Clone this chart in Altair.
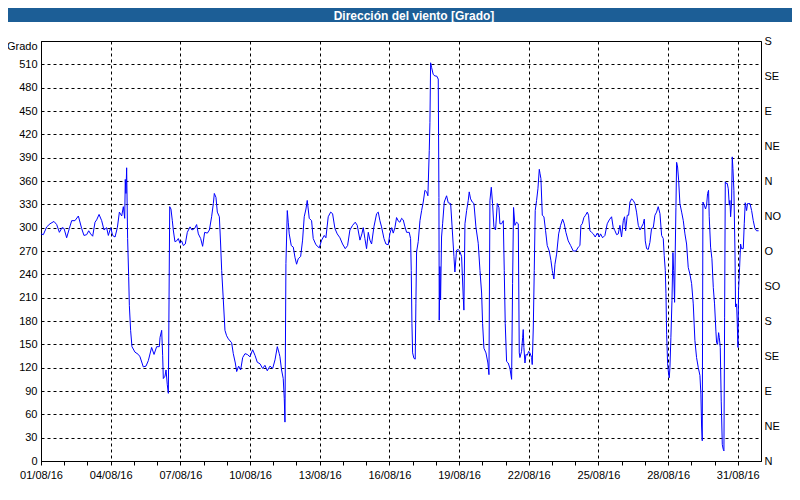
import altair as alt
import pandas as pd

# ---- data ----
# hours since 01/08/16 00:00
hours = [
    0.0, 2.4, 5.9, 9.3, 13.4, 16.2, 19.0, 21.7, 23.8, 26.5, 29.3, 31.7, 35.1, 38.6, 42.0, 44.4,
    47.2, 49.3, 51.3, 53.4, 55.8, 57.5, 60.0, 62.7, 65.1, 67.8, 69.6, 72.0, 74.0, 76.5, 78.9,
    81.0, 83.4, 85.1, 86.5, 87.1, 87.8, 88.5, 89.5, 90.6, 91.3, 92.6, 94.0, 97.1, 100.6, 102.3,
    105.7, 108.5, 110.9, 114.3, 116.8, 119.5, 122.3,
    123.0, 124.7, 125.7, 126.4, 128.1, 129.2, 130.5, 131.6, 132.3, 133.0, 134.3, 135.7, 136.7,
    138.4, 140.2, 141.9, 143.6, 145.3, 147.1, 149.1, 151.2, 154.0, 156.0, 158.8, 160.8, 162.6,
    165.0, 167.0, 169.1, 171.9, 174.0, 176.3, 178.1, 179.1, 180.8, 182.2, 184.3, 185.6, 186.7,
    188.4, 190.1, 191.8, 193.6, 197.0, 198.7, 200.8, 202.2, 204.2, 206.3, 208.4, 210.8, 213.2,
    215.9, 218.7, 221.1, 223.5, 226.3, 229.0, 231.4, 233.8, 236.6, 239.4, 241.8, 244.2, 246.2,
    246.9, 248.6, 250.3, 251.4, 252.1, 253.1, 254.5, 255.5, 256.5, 258.6, 260.7, 262.4, 264.1,
    265.8, 268.3, 270.3, 272.0, 273.8, 275.1, 277.2, 279.6, 281.3, 284.1, 287.5, 290.0, 292.7,
    294.4, 296.8, 299.3, 301.3, 303.7, 306.1, 308.9, 311.6, 314.4, 316.8, 319.2, 322.0, 324.7,
    326.8, 329.6, 331.6, 333.0, 334.7, 336.4, 338.2, 339.9, 341.6, 344.0, 346.8, 348.5, 350.2,
    351.9, 354.4, 356.4, 358.8, 360.5, 362.3, 364.0, 365.7, 367.4, 369.5,
    370.9, 372.6, 374.3, 376.1, 377.8, 380.5, 381.9, 382.6, 383.3, 384.0, 385.4, 386.7, 387.4,
    388.1, 389.8, 391.6, 393.3, 395.0, 396.7, 398.5, 399.8, 401.2, 401.9, 402.6, 403.6, 405.3,
    407.1, 408.8, 410.5, 411.2, 411.5, 412.2, 412.9, 413.9, 415.0, 416.7, 419.1, 420.8, 423.3,
    425.0, 426.7, 427.7, 429.4, 431.2, 432.9, 434.6, 436.3, 437.0, 438.1, 439.8, 441.5, 442.5,
    443.9, 445.6, 447.4, 449.4, 451.8, 453.6, 455.3, 456.3, 457.7, 459.8, 461.8, 462.9, 463.9,
    465.3, 466.6, 468.0, 469.7, 471.5, 473.2, 474.2, 475.9, 477.7, 478.7, 479.7, 481.1, 482.8,
    484.6, 486.3, 487.3, 488.3, 489.7, 491.4, 493.2, 494.2,
    494.9, 496.6, 497.7, 498.3, 499.0, 500.1, 501.1, 502.5, 503.9, 505.2, 507.0, 507.6, 508.7,
    509.7, 510.7, 512.1, 513.5, 514.9, 515.6, 516.6, 518.0, 519.7, 521.4, 523.1, 525.2, 526.9,
    528.3, 530.0, 531.1, 532.8, 534.9, 536.9, 539.0, 540.7, 542.4, 544.8, 547.3, 550.0, 552.8,
    555.2, 556.9, 557.9, 559.3, 561.0, 562.7, 564.5, 565.8, 567.2, 569.0, 570.7, 572.7, 574.8,
    576.9, 578.2, 580.3, 582.7, 585.1, 587.2, 589.6, 591.3, 593.1, 594.8, 596.5, 598.2, 599.9,
    601.7, 603.0, 604.1, 605.8, 607.2, 608.6, 610.3, 612.0, 613.7, 615.4, 617.2, 618.2,
    618.9, 620.6, 622.3, 623.4, 624.4, 625.8, 627.5, 629.2, 630.9, 632.7, 634.4, 636.1, 637.8,
    639.6, 641.3, 643.0, 644.0, 645.1, 645.8, 646.5, 647.5, 648.5, 649.2, 649.9, 650.9, 652.0,
    653.0, 653.7, 654.7, 655.4, 656.1, 656.8, 657.8, 658.9, 660.2, 662.0, 663.7, 665.4, 667.1,
    668.8, 670.6, 672.3, 674.0, 675.7, 677.4, 679.2, 680.9, 681.9, 682.6, 683.3, 684.0, 685.4,
    686.7, 687.8, 688.8, 689.8, 690.5, 691.9, 693.3, 694.7, 696.0, 697.4, 698.1, 699.1, 700.2,
    700.9, 701.9, 702.9, 704.0, 705.0, 705.7, 706.4, 707.1, 707.8, 709.1, 710.2, 711.2, 711.9,
    712.6, 713.6, 714.3, 715.0, 716.0, 717.1, 717.7, 718.8, 719.5, 720.2, 720.8, 721.9, 722.9,
    723.9, 725.7, 726.7, 727.7, 729.1, 730.1, 731.5, 732.6, 734.3, 736.0, 737.7, 739.4, 741.5,
]

# wind direction, degrees
degrees = [
    292, 291, 301, 305, 308, 304, 294, 300, 299, 287, 299, 309, 309, 315, 299, 290,
    291, 296, 292, 289, 307, 310, 317, 309, 297, 300, 290, 300, 290, 288, 300,
    320, 315, 327, 312, 362, 344, 377, 286, 237, 200, 168, 147, 140, 137, 134,
    121, 122, 129, 146, 137, 147, 147,
    159, 168, 136, 106, 109, 117, 98, 87, 207, 327, 324, 309, 297,
    282, 283, 286, 280, 283, 277, 279, 294, 301, 297, 299, 304, 292,
    286, 276, 294, 293, 297, 314, 331, 344, 339, 320, 314, 279, 245,
    207, 168, 161, 157, 152, 138, 126, 115, 122, 117, 133, 138, 137,
    134, 143, 136, 127, 125, 119, 123, 116, 122, 119, 130, 147, 138,
    134, 117, 106, 80, 50, 254, 322, 307, 292, 277, 275, 262, 253,
    260, 263, 284, 314, 324, 335, 312, 309, 286, 278, 274, 284, 290,
    287, 314, 320, 318, 299, 292, 287, 279, 273, 277, 297, 303, 307,
    303, 284, 292, 300, 286, 273, 294, 284, 279, 301, 318, 320, 309,
    301, 286, 279, 278, 292, 300, 293, 300, 313, 308,
    307, 312, 310, 301, 294, 294, 286, 245, 177, 139, 132, 131, 203,
    269, 282, 309, 322, 333, 348, 346, 341, 399, 435, 512, 506, 497,
    495, 495, 491, 339, 181, 250, 207, 288, 305, 333, 341, 332, 331,
    297, 263, 243, 271, 272, 269, 263, 211, 194, 305, 322, 335, 346,
    337, 333, 331, 301, 280, 245, 216, 177, 145, 139, 126, 111, 335,
    352, 331, 301, 297, 331, 326, 305, 305, 309, 245, 177, 128, 126,
    119, 105, 228, 326, 303, 307, 305, 139,
    133, 141, 159, 169, 146, 126, 137, 136, 141, 139, 133, 124, 171,
    245, 322, 335, 350, 375, 370, 363, 316, 314, 296, 277, 270, 258,
    245, 234, 253, 266, 292, 303, 311, 305, 294, 283, 277, 270, 270,
    275, 277, 303, 305, 313, 316, 320, 316, 296, 294, 292, 288, 293,
    288, 292, 287, 290, 305, 310, 314, 300, 296, 291, 292, 303, 288,
    309, 314, 296, 316, 316, 333, 337, 335, 331, 320, 303, 300,
    297, 301, 305, 311, 283, 273, 272, 281, 299, 300, 316, 320, 327,
    318, 290, 286, 264, 245, 215, 163, 125, 112, 107, 120, 159, 206,
    268, 245, 204, 271, 326, 384, 378, 361, 331, 320, 309, 292, 279,
    249, 240, 228, 202, 155, 133, 120, 110, 86, 45, 26, 333, 329,
    324, 329, 344, 348, 314, 275, 260, 223, 202, 167, 152, 150, 165,
    159, 146, 77, 21, 15, 13, 184, 359, 357, 357, 350, 329, 335,
    314, 333, 391, 376, 348, 271, 198, 202, 176, 146, 219, 249, 279,
    273, 273, 305, 332, 322, 331, 331, 331, 322, 309, 299, 296, 296,
]

chart_title = "Dirección del viento [Grado]"
date_labels = ["01/08/16", "04/08/16", "07/08/16", "10/08/16", "13/08/16", "16/08/16",
               "19/08/16", "22/08/16", "25/08/16", "28/08/16", "31/08/16"]
compass = ["N", "NE", "E", "SE", "S", "SO", "O", "NO", "N", "NE", "E", "SE", "S"]
left_ticks = list(range(0, 511, 30))
right_ticks = list(range(0, 541, 45))
day_ticks = list(range(0, 721, 24))

df = pd.DataFrame({"h": hours, "deg": degrees})

FONT = "Liberation Sans"
label_js = "[" + ",".join("'%s'" % s for s in date_labels) + "]"
compass_js = "[" + ",".join("'%s'" % s for s in compass) + "]"

x_enc = alt.X(
    "h:Q",
    scale=alt.Scale(domain=[0, 744], nice=False, zero=False),
    axis=alt.Axis(
        values=day_ticks,
        labelExpr="datum.value % 72 == 0 ? " + label_js + "[datum.value / 72] : ''",
        grid=True,
        gridColor="black",
        gridDash=[3, 3],
        gridOpacity={"condition": {"test": "datum.value % 72 == 0", "value": 1}, "value": 0},
        tickSize=4,
        tickColor="black",
        domainColor="black",
        labelFont=FONT,
        labelFontSize=11,
        labelColor="black",
        labelPadding=4,
        labelOverlap=False,
        labelFlush=False,
        title=None,
    ),
)

line = alt.Chart(df).mark_line(color="#0000ff", strokeWidth=1).encode(
    x=x_enc,
    y=alt.Y(
        "deg:Q",
        scale=alt.Scale(domain=[0, 540], nice=False),
        axis=alt.Axis(
            values=left_ticks,
            grid=True,
            gridColor="black",
            gridDash=[3, 3],
            tickSize=0,
            labelPadding=4,
            labelFont=FONT,
            labelFontSize=11,
            labelColor="black",
            domainColor="black",
            title="Grado",
            titleAngle=0,
            titleX=-4,
            titleY=5,
            titleAlign="right",
            titleBaseline="middle",
            titleFont=FONT,
            titleFontSize=11,
            titleFontWeight="normal",
            titleColor="black",
        ),
    ),
)

right = alt.Chart(df).mark_line(opacity=0).encode(
    x=x_enc,
    y=alt.Y(
        "deg:Q",
        scale=alt.Scale(domain=[0, 540], nice=False),
        axis=alt.Axis(
            orient="right",
            values=right_ticks,
            labelExpr=compass_js + "[datum.value / 45]",
            grid=False,
            tickSize=0,
            labelPadding=3,
            labelFont=FONT,
            labelFontSize=11,
            labelColor="black",
            domainColor="black",
            title=None,
        ),
    ),
)

title_df = pd.DataFrame({"t": [chart_title]})
bar = alt.Chart(title_df).mark_rect(color="#1c5e96").encode(
    x=alt.value(-33), x2=alt.value(751), y=alt.value(-33), y2=alt.value(-19)
)
title_text = alt.Chart(title_df).mark_text(
    color="white", font=FONT, fontSize=12, fontWeight="bold", align="center", baseline="middle"
).encode(text="t:N", x=alt.value(373), y=alt.value(-25.5))

chart = (
    alt.layer(line, right, bar, title_text)
    .resolve_scale(y="independent")
    .properties(
        width=720,
        height=420,
        autosize=alt.AutoSizeParams(type="none"),
        padding={"left": 33, "top": 33, "right": 31, "bottom": 27},
        background="white",
    )
    .configure_view(stroke="black", strokeWidth=1)
)

chart.save("out.html", embed_options={"renderer": "svg", "actions": False})
